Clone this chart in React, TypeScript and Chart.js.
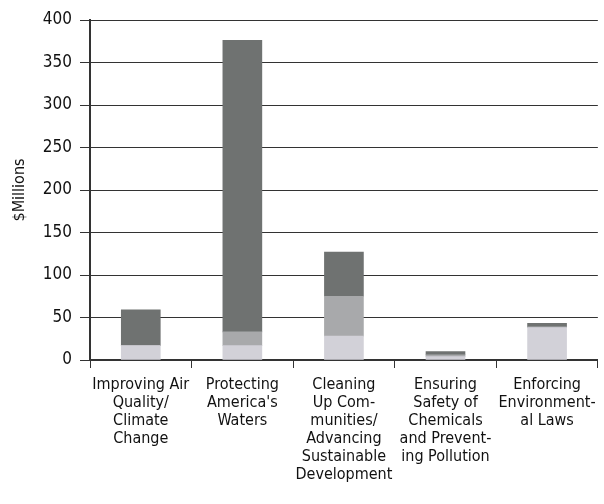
import React, { useEffect, useRef } from "react";
import { Chart, registerables } from "chart.js";

Chart.register(...registerables);

const categories: string[][] = [
  ["Improving Air", "Quality/", "Climate", "Change"],
  ["Protecting", "America's", "Waters"],
  ["Cleaning", "Up Com-", "munities/", "Advancing", "Sustainable", "Development"],
  ["Ensuring", "Safety of", "Chemicals", "and Prevent-", "ing Pollution"],
  ["Enforcing", "Environment-", "al Laws"],
];

const lightValues = [17, 17, 28, 4, 38];
const mediumValues = [0, 16, 47, 2, 1];
const darkValues = [42, 343, 52, 4, 4];

const yMin = 0;
const yMax = 400;
const yStep = 50;
const yTitle = "$Millions";

const FONT = "'Liberation Sans Narrow', 'DejaVu Sans Condensed', 'Liberation Sans', Arial, sans-serif";

export default function App() {
  const ref = useRef<HTMLCanvasElement | null>(null);

  useEffect(() => {
    if (!ref.current) return;
    const chart = new Chart(ref.current, {
      type: "bar",
      data: {
        labels: categories,
        datasets: [
          { label: "light", data: lightValues, backgroundColor: "#d2d1d8", barThickness: 39 },
          { label: "medium", data: mediumValues, backgroundColor: "#a8a9ab", barThickness: 39 },
          { label: "dark", data: darkValues, backgroundColor: "#6f7271", barThickness: 39 },
        ],
      },
      options: {
        responsive: false,
        animation: false,
        layout: { padding: { top: 20, right: 4, left: 0, bottom: 0 } },
        plugins: {
          legend: { display: false },
          tooltip: { enabled: false },
        },
        scales: {
          x: {
            stacked: true,
            offset: true,
            grid: {
              offset: true,
              drawOnChartArea: false,
              drawTicks: true,
              tickLength: 8,
              color: "#333",
              lineWidth: 1,
            },
            border: { display: true, color: "#333", width: 2 },
            ticks: {
              color: "#111",
              font: { family: FONT, size: 16, lineHeight: 1.12 },
              padding: 8,
              maxRotation: 0,
              minRotation: 0,
              autoSkip: false,
            },
            afterFit: (scale: any) => {
              scale.height = 144;
            },
          },
          y: {
            stacked: true,
            min: yMin,
            max: yMax,
            ticks: {
              stepSize: yStep,
              color: "#111",
              font: { family: FONT, size: 17 },
              padding: 8,
            },
            grid: {
              color: "#333",
              lineWidth: 1,
              tickLength: 10,
            },
            border: { display: true, color: "#333", width: 2 },
            title: {
              display: true,
              text: yTitle,
              color: "#111",
              font: { family: FONT, size: 16 },
              padding: { top: 10, bottom: 0 },
            },
            afterFit: (scale: any) => {
              scale.width = 90;
            },
          },
        },
      },
    });
    return () => chart.destroy();
  }, []);

  return (
    <div style={{ position: "absolute", left: 0, top: 0, width: 604, height: 504, background: "#fff" }}>
      <canvas ref={ref} width={604} height={504} style={{ display: "block" }} />
    </div>
  );
}
